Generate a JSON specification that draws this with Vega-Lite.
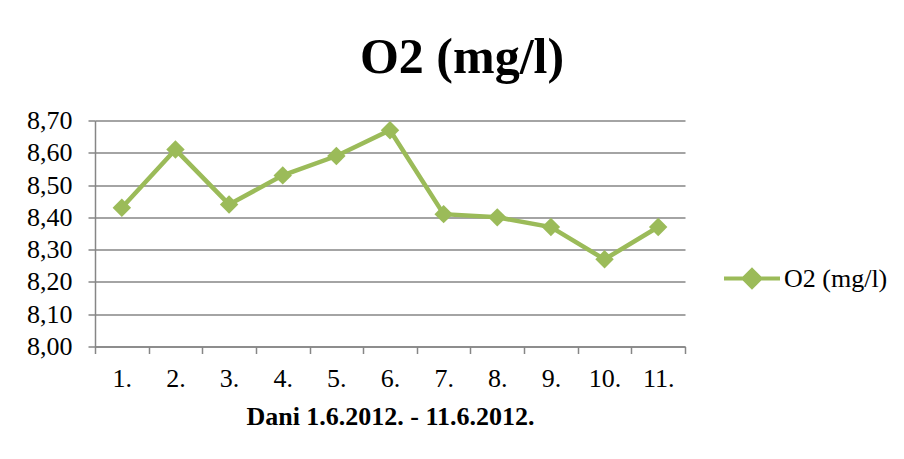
{
  "$schema": "https://vega.github.io/schema/vega-lite/v6.json",
  "autosize": {"type": "none"},
  "padding": {"left": 95, "top": 120.5, "right": 219, "bottom": 112},
  "width": 590,
  "height": 226,
  "background": "white",
  "config": {
    "font": "Liberation Serif, Times New Roman, serif",
    "view": {"stroke": null}
  },
  "title": {
    "text": "O2 (mg/l)",
    "font": "Liberation Serif, Times New Roman, serif",
    "fontSize": 50,
    "fontWeight": "bold",
    "color": "black",
    "anchor": "middle",
    "frame": "group",
    "dx": 72,
    "dy": 59,
    "baseline": "alphabetic",
    "offset": 44
  },
  "data": {
    "values": [
      {"dan": "1.", "o2": 8.43, "serija": "O2 (mg/l)"},
      {"dan": "2.", "o2": 8.61, "serija": "O2 (mg/l)"},
      {"dan": "3.", "o2": 8.44, "serija": "O2 (mg/l)"},
      {"dan": "4.", "o2": 8.53, "serija": "O2 (mg/l)"},
      {"dan": "5.", "o2": 8.59, "serija": "O2 (mg/l)"},
      {"dan": "6.", "o2": 8.67, "serija": "O2 (mg/l)"},
      {"dan": "7.", "o2": 8.41, "serija": "O2 (mg/l)"},
      {"dan": "8.", "o2": 8.40, "serija": "O2 (mg/l)"},
      {"dan": "9.", "o2": 8.37, "serija": "O2 (mg/l)"},
      {"dan": "10.", "o2": 8.27, "serija": "O2 (mg/l)"},
      {"dan": "11.", "o2": 8.37, "serija": "O2 (mg/l)"}
    ]
  },
  "encoding": {
    "x": {
      "field": "dan",
      "type": "ordinal",
      "sort": null,
      "scale": {"type": "band", "paddingInner": 0, "paddingOuter": 0},
      "axis": {
        "title": "Dani 1.6.2012. - 11.6.2012.",
        "titleFont": "Liberation Serif, Times New Roman, serif",
        "titleFontSize": 26,
        "titleFontWeight": "bold",
        "titleColor": "black",
        "titlePadding": 12,
        "labelFont": "Liberation Serif, Times New Roman, serif",
        "labelFontSize": 26,
        "labelColor": "black",
        "labelAngle": 0,
        "labelPadding": 12,
        "tickBand": "extent",
        "tickSize": 7,
        "tickColor": "#868686",
        "tickWidth": 1.5,
        "domainColor": "#868686",
        "domainWidth": 1.5,
        "grid": false
      }
    },
    "y": {
      "field": "o2",
      "type": "quantitative",
      "scale": {"domain": [8.0, 8.7], "zero": false, "nice": false},
      "axis": {
        "title": null,
        "values": [8.0, 8.1, 8.2, 8.3, 8.4, 8.5, 8.6, 8.7],
        "labelExpr": "replace(format(datum.value, '.2f'), '.', ',')",
        "labelFont": "Liberation Serif, Times New Roman, serif",
        "labelFontSize": 26,
        "labelColor": "black",
        "labelPadding": 16,
        "tickSize": 7,
        "tickColor": "#868686",
        "tickWidth": 1.5,
        "domainColor": "#868686",
        "domainWidth": 1.5,
        "grid": true,
        "gridColor": "#868686",
        "gridWidth": 1.5
      }
    },
    "color": {
      "field": "serija",
      "type": "nominal",
      "scale": {"range": ["#9BBB59"]},
      "legend": {
        "title": null,
        "orient": "none",
        "legendX": 627,
        "legendY": 128,
        "symbolType": "M-1,0H1M0,-0.3L0.3,0L0,0.3L-0.3,0Z",
        "symbolSize": 3136,
        "symbolStrokeWidth": 4,
        "symbolFillColor": "#9BBB59",
        "symbolStrokeColor": "#9BBB59",
        "labelFont": "Liberation Serif, Times New Roman, serif",
        "labelFontSize": 26,
        "labelColor": "black",
        "labelOffset": 2
      }
    }
  },
  "layer": [
    {"mark": {"type": "line", "strokeWidth": 4.5}},
    {"mark": {"type": "point", "shape": "diamond", "filled": true, "size": 340, "opacity": 1}}
  ]
}
